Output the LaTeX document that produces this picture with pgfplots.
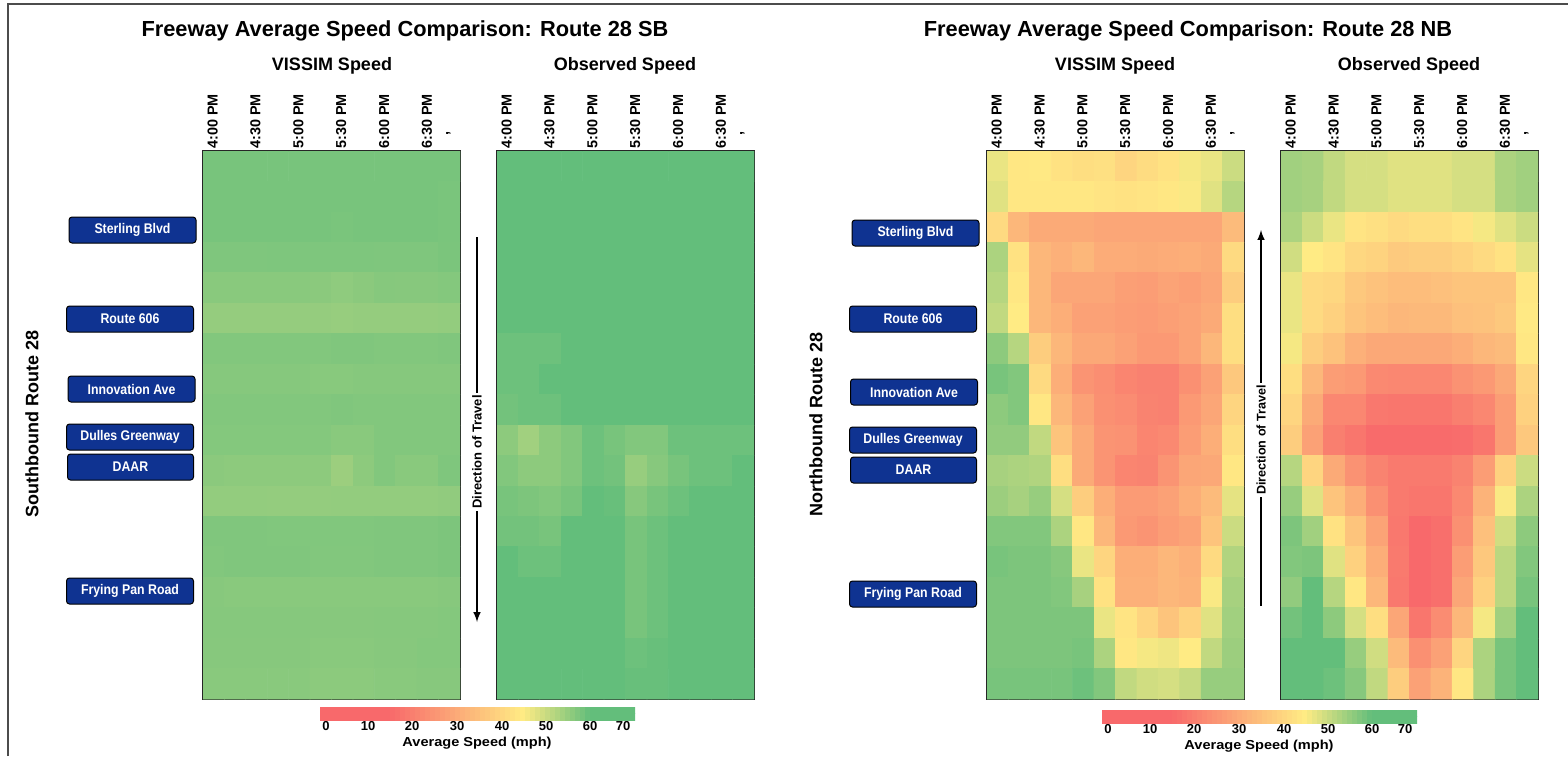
\documentclass[border=0pt]{standalone}
\usepackage{pgfplots}
\pgfplotsset{compat=1.18}
\usepackage{graphicx}
\usepackage{fontspec}
\setmainfont{Liberation Sans}
\definecolor{btnblue}{HTML}{0F3391}
\pgfplotsset{
  heat/.style={
    scale only axis, width=128.5pt, height=274pt,
    anchor=north west, axis line style={line width=0.6pt,black!85},
    xmin=-0.5, xmax=11.5, ymin=-0.5, ymax=17.5, y dir=reverse,
    xtick={0,2,4,6,8,10,11},
    xticklabels={4:00 PM,4:30 PM,5:00 PM,5:30 PM,6:00 PM,6:30 PM,\hspace*{6.5pt}{,}},
    ytick=\empty, tick style={draw=none},
    xticklabel pos=top,
    xticklabel style={rotate=90,anchor=west,font=\bfseries\fontsize{7.2}{8}\selectfont,inner xsep=0pt,inner ysep=0pt,xshift=1pt,yshift=0.5pt},
    colormap={speed}{rgb255(0pt)=(248,105,107); rgb255(15pt)=(248,105,107); rgb255(45pt)=(255,235,132); rgb255(60pt)=(99,190,123); rgb255(72pt)=(99,190,123)},
    point meta min=0, point meta max=72,
  },
  cells/.style={matrix plot*, mesh/cols=12, mesh/rows=18, mesh/ordering=x varies, point meta=\thisrowno{0}},
  table/cellsrc/.style={row sep=\\, header=false, x expr={\coordindex-12*floor((\coordindex+0.5)/12)}, y expr={floor((\coordindex+0.5)/12)}},
  cbar/.style={
    scale only axis, width=157.5pt, height=6.5pt, anchor=north west,
    axis line style={draw=none}, xmin=320, xmax=635, ymin=0, ymax=1,
    xtick={326,368,412,457,502,546,590,623},
    xticklabels={0,10,20,30,40,50,60,70},
    ytick=\empty, tick style={draw=none},
    xticklabel style={font=\bfseries\fontsize{6.5}{7}\selectfont,inner ysep=0pt,yshift=-0.5pt},
    colormap={speed}{rgb255(0pt)=(248,105,107); rgb255(15pt)=(248,105,107); rgb255(45pt)=(255,235,132); rgb255(60pt)=(99,190,123); rgb255(72pt)=(99,190,123)},
    point meta min=0, point meta max=72,
  },
  barcells/.style={matrix plot*, mesh/cols=63, mesh/rows=2, mesh/ordering=x varies, point meta=\thisrowno{0}},
  table/barsrc/.style={row sep=\\, header=false, x expr={322.5+5*(\coordindex-63*floor((\coordindex+0.5)/63))}, y expr={0.25+0.5*floor((\coordindex+0.5)/63)}},
}
\newcommand{\btn}[4]{\node[draw=black,line width=0.5pt,fill=btnblue,rounded corners=1.5pt,minimum width=#3*0.5pt,minimum height=13pt,inner sep=0pt,text=white,font=\bfseries\fontsize{7}{8}\selectfont] at (#1,#2) {\scalebox{0.88}[1]{#4}};}
\begin{document}
\begin{tikzpicture}
\path[use as bounding box] (0,-378pt) rectangle (784pt,0pt);
% SB VISSIM
\begin{axis}[heat, at={(101.5pt,-75.5pt)}]
\addplot[cells] table[cellsrc] {
58\\58\\58\\58\\58\\58\\58\\58\\58\\58\\58\\58\\
58\\58\\58\\58\\58\\58\\58\\58\\58\\58\\58\\57.8\\
58\\58\\58\\58\\58\\58\\57.8\\58\\58\\58\\58\\57.8\\
57.3\\57.3\\57.3\\57.4\\57.4\\57.4\\57.4\\57.4\\57.3\\57.3\\57.3\\57.7\\
56.3\\56.3\\56.3\\56.3\\56.3\\56.2\\55.8\\56.2\\56.6\\56.5\\56.5\\56.8\\
55.2\\55.2\\55.2\\55.2\\55.2\\55.2\\55\\55.2\\55.2\\55.2\\55.2\\55.4\\
57\\57\\57\\57\\57\\57\\57.2\\57.2\\57\\57\\57\\57.2\\
56.6\\56.6\\56.6\\56.6\\56.6\\56.4\\56.4\\56.6\\56.6\\56.6\\56.6\\56.6\\
57\\57\\57\\57\\57\\57\\57.2\\57\\57\\57\\57\\57\\
56.8\\56.8\\56.8\\56.8\\56.8\\56.8\\56.3\\56.3\\57\\57\\57\\57\\
56.2\\56\\56\\56\\56\\56\\54.5\\56\\57\\56.3\\56.3\\57.3\\
55.4\\55.4\\55.4\\55.3\\55.3\\55.3\\55.4\\55.4\\55.4\\55.4\\55.4\\55.6\\
57.2\\57.2\\57.2\\57.1\\57.1\\57.1\\57.1\\57.1\\57.2\\57.2\\57.2\\57.5\\
57\\57.2\\57.2\\57.2\\57.2\\57\\57\\57\\57.2\\57.2\\57.2\\57.5\\
56.5\\56.3\\56.3\\56.3\\56.3\\56.3\\56.3\\56.3\\56.3\\56.3\\56.3\\56.5\\
56.6\\56.6\\56.6\\56.6\\56.6\\56.5\\56.5\\56.5\\56.6\\56.6\\56.6\\56.8\\
56.5\\56.5\\56.5\\56.5\\56.5\\56.3\\56.3\\56.3\\56.5\\56.5\\56.8\\56.8\\
56.3\\56.3\\56.3\\56.3\\56.3\\56.1\\56.1\\56.1\\56.3\\56.3\\56.5\\56.5\\
};
\end{axis}
% SB Observed
\begin{axis}[heat, at={(248.5pt,-75.5pt)}]
\addplot[cells] table[cellsrc] {
60\\60\\60\\60\\60\\60\\60\\60\\60\\60\\60\\60\\
60\\60\\60\\60\\60\\60\\60\\60\\60\\60\\60\\60\\
60\\60\\60\\60\\60\\60\\60\\60\\60\\60\\60\\60\\
60\\60\\60\\60\\60\\60\\60\\60\\60\\60\\60\\60\\
60\\60\\60\\60\\60\\60\\60\\60\\60\\60\\60\\60\\
60\\60\\60\\60\\60\\60\\60\\60\\60\\60\\60\\60\\
59\\59\\59\\60\\60\\60\\60\\60\\60\\60\\60\\60\\
59\\59\\60\\60\\60\\60\\60\\60\\60\\60\\60\\60\\
58.5\\59\\59\\60\\60\\60\\60\\60\\60\\60\\60\\60\\
56\\54\\56\\57\\59\\58\\57\\57\\59\\59\\59\\59\\
57\\56\\56\\57\\59\\58.5\\55\\56.5\\58\\59\\59\\60\\
58\\57.5\\57\\58\\60\\59.5\\56.5\\58\\59\\60\\60\\60\\
58.5\\58.5\\58\\60\\60\\60\\58\\59\\60\\60\\60\\60\\
60\\59\\59\\60\\60\\60\\58\\59\\60\\60\\60\\60\\
60\\60\\60\\60\\60\\60\\58\\59\\60\\60\\60\\60\\
60\\60\\60\\60\\60\\60\\58\\59\\60\\60\\60\\60\\
60\\60\\60\\60\\60\\60\\59\\59.5\\60\\60\\60\\60\\
60\\60\\60\\60\\60\\60\\59.5\\59.5\\60\\60\\60\\60\\
};
\end{axis}
% NB VISSIM
\begin{axis}[heat, at={(493.5pt,-75.5pt)}]
\addplot[cells] table[cellsrc] {
47\\44\\44.5\\43\\42\\42.5\\40\\41.5\\43\\46\\47\\50\\
48\\44\\44\\44\\44\\43.5\\43\\43.5\\44\\45.5\\48\\52\\
41\\33\\30\\30\\30\\29\\29\\29\\29\\29\\29\\34\\
53\\43\\33\\31.5\\33\\30.5\\30.5\\30\\30.5\\31\\30\\41\\
52\\44\\33\\29\\29\\29\\27.5\\27\\28.5\\27.5\\29\\38\\
51\\45\\33\\31\\28\\28\\27\\26.5\\27.5\\28.5\\30\\42\\
56\\52\\38\\33\\29.5\\29.5\\28\\26\\26\\28.5\\33\\42\\
58\\57\\41\\31\\25\\23.5\\21.5\\20.5\\20.5\\24\\28\\37\\
56\\57\\44\\33\\28\\24\\23\\21\\20.5\\26\\29\\40\\
55.5\\55.5\\51\\36\\30\\25\\24.5\\21.5\\22.5\\27\\31\\42\\
53.5\\53\\52.5\\42\\30\\25\\21.5\\21\\25\\29\\29.5\\44\\
54.5\\53.5\\55\\49\\38\\31\\26.5\\26.5\\28\\31\\34\\47.5\\
57\\57\\57\\53\\44\\33\\26\\25\\27\\28.5\\36\\50\\
58\\57.5\\57.5\\56.5\\47\\40\\31\\31\\33\\31.5\\41\\52.5\\
57.5\\57.5\\57.5\\57\\53.5\\43\\31.5\\31.5\\33\\32\\45.5\\53.5\\
57.5\\57.5\\57.5\\57.5\\57.5\\47\\43.5\\40\\36\\39.5\\48\\54\\
57.5\\57.5\\57.5\\57.5\\58\\53\\44\\46\\46.5\\45\\51\\54.5\\
58\\58\\58\\58\\59\\57\\51\\49.5\\49\\50.5\\55\\55\\
};
\end{axis}
% NB Observed
\begin{axis}[heat, at={(640.5pt,-75.5pt)}]
\addplot[cells] table[cellsrc] {
54\\53.5\\51\\49\\49\\48\\48\\48\\49\\49\\53\\54\\
54\\53.5\\51\\49\\49\\48\\48\\48\\49\\49\\53\\54\\
53\\50\\47\\43.5\\42.5\\41\\42\\42\\43.5\\46\\48\\50\\
49.5\\45\\43.5\\40.5\\39.5\\37.5\\38\\38\\39.5\\41\\43\\47.5\\
47\\41\\40.5\\37\\35.5\\34.5\\34.5\\35\\36\\36\\36\\44\\
47\\41\\39\\36\\34.5\\33\\33.5\\33.5\\35\\35.5\\37\\44.5\\
46\\38\\35.5\\31.5\\29.5\\29.5\\29.5\\29.5\\31\\33\\34\\44\\
42\\33\\27\\26\\22.5\\22\\22\\22\\24.5\\26\\29.5\\40\\
40\\30\\22\\22\\18.5\\18\\18\\18\\20\\22\\27\\39\\
38\\28\\20\\18\\15.5\\15.5\\15.5\\15.5\\16\\18\\27\\37\\
52\\40\\30\\24.5\\21\\19\\19\\19\\21\\27\\39\\50\\
55\\48\\36\\31\\24\\19\\18\\18\\22.5\\32\\45.5\\53\\
57.5\\54\\43\\36\\28.5\\18.5\\15\\16.5\\24\\35\\49.5\\56\\
57\\57.5\\48\\39\\31\\19\\15\\16.5\\27\\37\\51.5\\57\\
55.5\\60\\52\\44\\33\\18.5\\15\\16.5\\29\\39\\51.5\\58\\
58.5\\60\\56\\49\\42\\29\\18\\23\\33\\46\\54\\60\\
60\\60\\60\\55\\49.5\\34\\24\\28\\40\\53\\58\\61\\
60\\60\\59\\56.5\\51\\38\\28\\32\\44\\53\\58\\60\\
};
\end{axis}
% colour bars
\begin{axis}[cbar, at={(160pt,-353.5pt)}]
\addplot[barcells] table[barsrc] {
15\\15\\15\\15\\15\\15\\15\\15\\15\\15\\15\\15\\15\\15\\15.6\\16.7\\17.8\\18.9\\20.1\\21.2\\22.3\\23.5\\24.6\\25.7\\26.8\\28\\29.1\\30.2\\31.4\\32.5\\33.6\\34.7\\35.9\\37\\38.1\\39.2\\40.4\\41.5\\42.6\\43.8\\44.9\\46\\47.1\\48.2\\49.4\\50.5\\51.6\\52.7\\53.8\\55\\56.1\\57.2\\58.3\\59.5\\60\\60\\60\\60\\60\\60\\60\\60\\60\\
15\\15\\15\\15\\15\\15\\15\\15\\15\\15\\15\\15\\15\\15\\15.6\\16.7\\17.8\\18.9\\20.1\\21.2\\22.3\\23.5\\24.6\\25.7\\26.8\\28\\29.1\\30.2\\31.4\\32.5\\33.6\\34.7\\35.9\\37\\38.1\\39.2\\40.4\\41.5\\42.6\\43.8\\44.9\\46\\47.1\\48.2\\49.4\\50.5\\51.6\\52.7\\53.8\\55\\56.1\\57.2\\58.3\\59.5\\60\\60\\60\\60\\60\\60\\60\\60\\60\\
};
\end{axis}
\begin{axis}[cbar, at={(551pt,-355pt)}]
\addplot[barcells] table[barsrc] {
15\\15\\15\\15\\15\\15\\15\\15\\15\\15\\15\\15\\15\\15\\15.6\\16.7\\17.8\\18.9\\20.1\\21.2\\22.3\\23.5\\24.6\\25.7\\26.8\\28\\29.1\\30.2\\31.4\\32.5\\33.6\\34.7\\35.9\\37\\38.1\\39.2\\40.4\\41.5\\42.6\\43.8\\44.9\\46\\47.1\\48.2\\49.4\\50.5\\51.6\\52.7\\53.8\\55\\56.1\\57.2\\58.3\\59.5\\60\\60\\60\\60\\60\\60\\60\\60\\60\\
15\\15\\15\\15\\15\\15\\15\\15\\15\\15\\15\\15\\15\\15\\15.6\\16.7\\17.8\\18.9\\20.1\\21.2\\22.3\\23.5\\24.6\\25.7\\26.8\\28\\29.1\\30.2\\31.4\\32.5\\33.6\\34.7\\35.9\\37\\38.1\\39.2\\40.4\\41.5\\42.6\\43.8\\44.9\\46\\47.1\\48.2\\49.4\\50.5\\51.6\\52.7\\53.8\\55\\56.1\\57.2\\58.3\\59.5\\60\\60\\60\\60\\60\\60\\60\\60\\60\\
};
\end{axis}
\begin{scope}[x=0.5pt,y=-0.5pt]
% frame
\draw[line width=0.8pt,black!70] (8,756) -- (8,4) -- (1568,4);
% titles
\node[font=\bfseries\fontsize{10.9}{12}\selectfont] at (405,31) {Freeway Average Speed Comparison: Route 28 SB};
\node[font=\bfseries\fontsize{10.9}{12}\selectfont] at (1188,31) {Freeway Average Speed Comparison: Route 28 NB};
\foreach \x/\t in {332/VISSIM Speed,625/Observed Speed,1115/VISSIM Speed,1409/Observed Speed}
  \node[font=\bfseries\fontsize{9}{11}\selectfont] at (\x,66) {\t};
% side labels
\node[rotate=90,font=\bfseries\fontsize{9}{11}\selectfont] at (32,424) {Southbound Route 28};
\node[rotate=90,font=\bfseries\fontsize{9}{11}\selectfont] at (816,424) {Northbound Route 28};
% buttons
\btn{132.5}{230}{127}{Sterling Blvd}
\btn{130}{319}{127}{Route 606}
\btn{131.5}{389}{127}{Innovation Ave}
\btn{130}{437}{127}{Dulles Greenway}
\btn{130.5}{467}{126}{DAAR}
\btn{130}{591}{127}{Frying Pan Road}
\btn{915.5}{233}{127}{Sterling Blvd}
\btn{913}{319}{127}{Route 606}
\btn{914}{392}{127}{Innovation Ave}
\btn{913}{440}{127}{Dulles Greenway}
\btn{913.5}{470}{126}{DAAR}
\btn{913}{594}{127}{Frying Pan Road}
% direction arrows
\draw[-{latex},line width=0.7pt] (477,237) -- (477,622);
\node[rotate=90,fill=white,inner xsep=1pt,inner ysep=0.5pt,font=\bfseries\fontsize{6.5}{7}\selectfont] at (477,452) {Direction of Travel};
\draw[-{latex},line width=0.7pt] (1261,606) -- (1261,230);
\node[rotate=90,fill=white,inner xsep=1pt,inner ysep=0.5pt,font=\bfseries\fontsize{6.3}{7}\selectfont] at (1261,440) {Direction of Travel};
% colour bar titles
\node[font=\bfseries\fontsize{6.5}{7}\selectfont] at (477,743) {\scalebox{1.12}[1]{Average Speed (mph)}};
\node[font=\bfseries\fontsize{6.5}{7}\selectfont] at (1259,746) {\scalebox{1.12}[1]{Average Speed (mph)}};
\end{scope}
\end{tikzpicture}
\end{document}
